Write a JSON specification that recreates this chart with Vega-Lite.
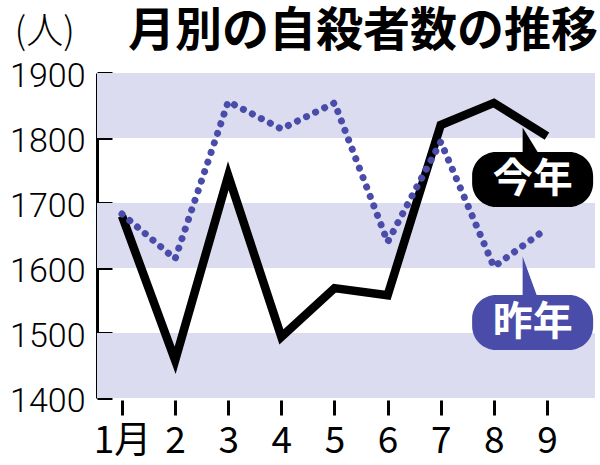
{
  "$schema": "https://vega.github.io/schema/vega-lite/v6.json",
  "width": 498,
  "height": 325,
  "autosize": {"type": "none"},
  "padding": {"left": 97, "top": 73, "right": 5, "bottom": 67},
  "background": "white",
  "config": {"view": {"stroke": null}},
  "title": {
    "text": "月別の自殺者数の推移",
    "anchor": "start",
    "frame": "group",
    "font": "Noto Sans CJK JP",
    "fontSize": 47,
    "fontWeight": "bold",
    "color": "#000",
    "baseline": "alphabetic",
    "dx": 31,
    "dy": 90,
    "offset": 10
  },
  "data": {
    "values": [
      {"month": 1, "value": 1680, "series": "今年"},
      {"month": 2, "value": 1458, "series": "今年"},
      {"month": 3, "value": 1742, "series": "今年"},
      {"month": 4, "value": 1494, "series": "今年"},
      {"month": 5, "value": 1569, "series": "今年"},
      {"month": 6, "value": 1558, "series": "今年"},
      {"month": 7, "value": 1820, "series": "今年"},
      {"month": 8, "value": 1854, "series": "今年"},
      {"month": 9, "value": 1803, "series": "今年"},
      {"month": 1, "value": 1683, "series": "昨年"},
      {"month": 2, "value": 1614, "series": "昨年"},
      {"month": 3, "value": 1856, "series": "昨年"},
      {"month": 4, "value": 1814, "series": "昨年"},
      {"month": 5, "value": 1854, "series": "昨年"},
      {"month": 6, "value": 1640, "series": "昨年"},
      {"month": 7, "value": 1794, "series": "昨年"},
      {"month": 8, "value": 1602, "series": "昨年"},
      {"month": 9, "value": 1661, "series": "昨年"}
    ]
  },
  "layer": [
    {
      "data": {"values": [{"lo": 1400, "hi": 1500}, {"lo": 1600, "hi": 1700}, {"lo": 1800, "hi": 1900}]},
      "mark": {"type": "rect", "color": "#dcdcf0"},
      "encoding": {
        "y": {"field": "lo", "type": "quantitative"},
        "y2": {"field": "hi"}
      }
    },
    {
      "transform": [{"filter": "datum.series == '今年'"}],
      "mark": {"type": "line", "color": "#000", "strokeWidth": 8.5, "strokeJoin": "miter", "strokeCap": "butt"},
      "encoding": {
        "x": {
          "field": "month", "type": "quantitative",
          "scale": {"domain": [0.529, 9.904], "nice": false, "zero": false},
          "axis": {
            "title": null, "values": [1, 2, 3, 4, 5, 6, 7, 8, 9], "domain": false,
            "tickColor": "#000", "tickWidth": 3, "tickSize": 15, "offset": 2,
            "labelExpr": "datum.value == 1 ? '1月' : datum.label",
            "labelFont": "Liberation Sans Narrow, Noto Sans CJK JP", "labelFontSize": 37,
            "labelColor": "#000", "labelPadding": 8, "labelFlush": false, "labelOverlap": false, "grid": false
          }
        },
        "y": {
          "field": "value", "type": "quantitative",
          "scale": {"domain": [1400, 1900], "nice": false, "zero": false},
          "axis": {
            "title": "(人)", "titleAngle": 0, "titleAlign": "left", "titleBaseline": "alphabetic",
            "titleX": -83, "titleY": -30, "titleFont": "Noto Sans CJK JP", "titleFontSize": 37,
            "titleFontWeight": 300, "titleColor": "#000",
            "values": [1400, 1500, 1600, 1700, 1800, 1900], "format": "d",
            "domainColor": "#000", "domainWidth": 3, "tickColor": "#000", "tickWidth": 3, "tickSize": -15,
            "labelFont": "Roboto", "labelFontWeight": 300, "labelFontSize": 34, "labelColor": "#000",
            "labelPadding": 27, "labelOffset": 3, "labelOverlap": false, "labelFlush": false, "grid": false
          }
        }
      }
    },
    {
      "transform": [{"filter": "datum.series == '昨年'"}],
      "mark": {"type": "line", "color": "#4a4caa", "strokeWidth": 7, "strokeCap": "round", "strokeDash": [0.1, 10]},
      "encoding": {
        "x": {"field": "month", "type": "quantitative"},
        "y": {"field": "value", "type": "quantitative"}
      }
    },
    {
      "data": {"values": [{"label": "今年"}]},
      "mark": {"type": "point", "filled": true, "fill": "#000", "opacity": 1, "strokeWidth": 0, "size": 4,
        "shape": "M -36.5 -27.5 L -10 -27.5 L -10 -52 L 5 -27.5 L 36.5 -27.5 A 24 24 0 0 1 60.5 -3.5 L 60.5 3.5 A 24 24 0 0 1 36.5 27.5 L -36.5 27.5 A 24 24 0 0 1 -60.5 3.5 L -60.5 -3.5 A 24 24 0 0 1 -36.5 -27.5 Z"},
      "encoding": {
        "x": {"datum": 8.73, "type": "quantitative"},
        "y": {"datum": 1736, "type": "quantitative"}
      }
    },
    {
      "data": {"values": [{"label": "今年"}]},
      "mark": {"type": "text", "color": "#fff", "font": "Noto Sans CJK JP", "fontSize": 40, "fontWeight": "bold", "align": "center", "baseline": "middle"},
      "encoding": {
        "x": {"datum": 8.73, "type": "quantitative"},
        "y": {"datum": 1736, "type": "quantitative"},
        "text": {"field": "label"}
      }
    },
    {
      "data": {"values": [{"label": "昨年"}]},
      "mark": {"type": "point", "filled": true, "fill": "#4a4caa", "opacity": 1, "strokeWidth": 0, "size": 4,
        "shape": "M -36.5 -27.5 L -10 -27.5 L -10 -66 L 4 -27.5 L 36.5 -27.5 A 24 24 0 0 1 60.5 -3.5 L 60.5 3.5 A 24 24 0 0 1 36.5 27.5 L -36.5 27.5 A 24 24 0 0 1 -60.5 3.5 L -60.5 -3.5 A 24 24 0 0 1 -36.5 -27.5 Z"},
      "encoding": {
        "x": {"datum": 8.73, "type": "quantitative"},
        "y": {"datum": 1516, "type": "quantitative"}
      }
    },
    {
      "data": {"values": [{"label": "昨年"}]},
      "mark": {"type": "text", "color": "#fff", "font": "Noto Sans CJK JP", "fontSize": 40, "fontWeight": "bold", "align": "center", "baseline": "middle"},
      "encoding": {
        "x": {"datum": 8.73, "type": "quantitative"},
        "y": {"datum": 1516, "type": "quantitative"},
        "text": {"field": "label"}
      }
    }
  ]
}
